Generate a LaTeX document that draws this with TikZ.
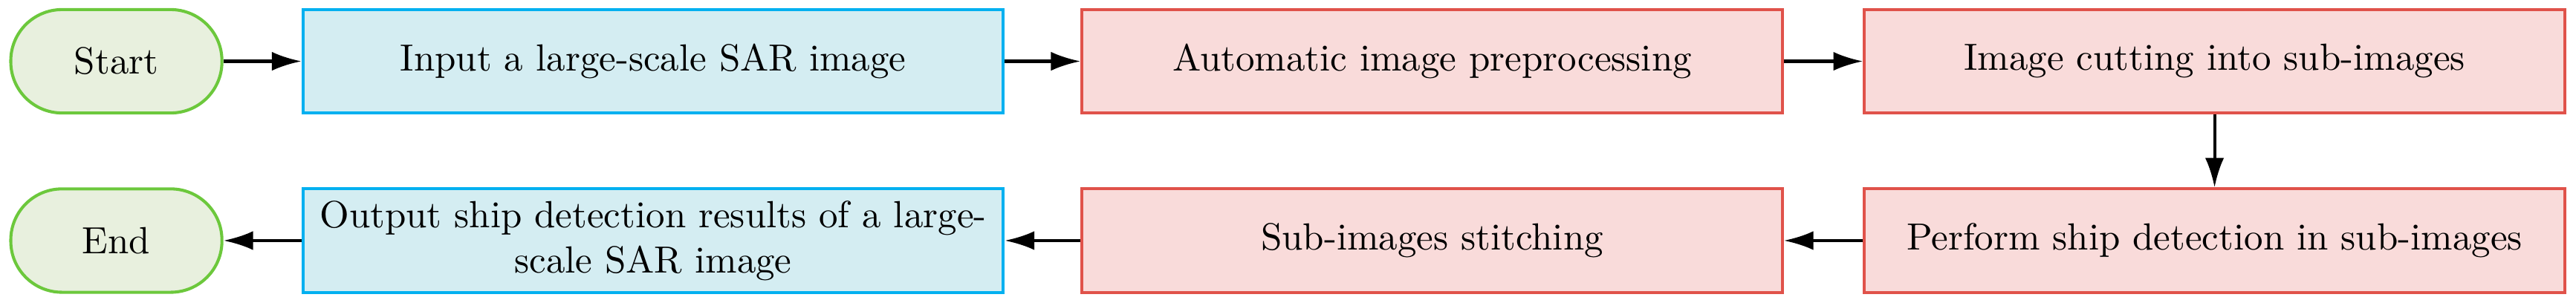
\documentclass[tikz,border=0pt]{standalone}
\usepackage{xcolor}
\usetikzlibrary{arrows.meta}
\definecolor{termgreen}{RGB}{108,200,60}
\definecolor{termfill}{RGB}{232,240,222}
\definecolor{ioblue}{RGB}{0,176,240}
\definecolor{iofill}{RGB}{212,237,242}
\definecolor{procred}{RGB}{224,82,74}
\definecolor{procfill}{RGB}{249,219,218}
\tikzset{term box/.style={thick, draw=termgreen, fill=termfill, rounded corners=0.475cm, minimum height=0.96cm, minimum width=1.96cm}}
\tikzset{io box/.style={thick, draw=ioblue, fill=iofill, minimum height=0.96cm, minimum width=6.5cm, align=center, inner sep=1pt}}
\tikzset{proc box/.style={thick, draw=procred, fill=procfill, minimum height=0.96cm, minimum width=6.5cm}}
\tikzset{flow/.style={thick, -{Latex[length=7.8pt, width=5pt]}}}
\begin{document}
\begin{tikzpicture}
    \useasboundingbox (0,0) rectangle (23.91,-2.807);
    \newcommand\posStart{1.08}
    \newcommand\posIn{6.062}
    \newcommand\posPre{13.293}
    \newcommand\posCut{20.555}
    \newcommand\rowTop{-0.569}
    \newcommand\rowBot{-2.234}

    \node[term box] (start) at (\posStart, \rowTop){Start};
    \node[io box] (input) at (\posIn, \rowTop){Input a large-scale SAR image};
    \node[proc box] (prep) at (\posPre, \rowTop){Automatic image preprocessing};
    \node[proc box] (cut) at (\posCut, \rowTop){Image cutting into sub-images};

    \node[proc box] (detect) at (\posCut, \rowBot){Perform ship detection in sub-images};
    \node[proc box] (stitch) at (\posPre, \rowBot){Sub-images stitching};
    \node[io box] (output) at (\posIn, \rowBot){Output ship detection results of a large-\\scale SAR image};
    \node[term box] (end) at (\posStart, \rowBot){End};

    \draw[flow] (start) -- (input);
    \draw[flow] (input) -- (prep);
    \draw[flow] (prep) -- (cut);
    \draw[flow] (cut) -- (detect);
    \draw[flow] (detect) -- (stitch);
    \draw[flow] (stitch) -- (output);
    \draw[flow] (output) -- (end);
\end{tikzpicture}
\end{document}
